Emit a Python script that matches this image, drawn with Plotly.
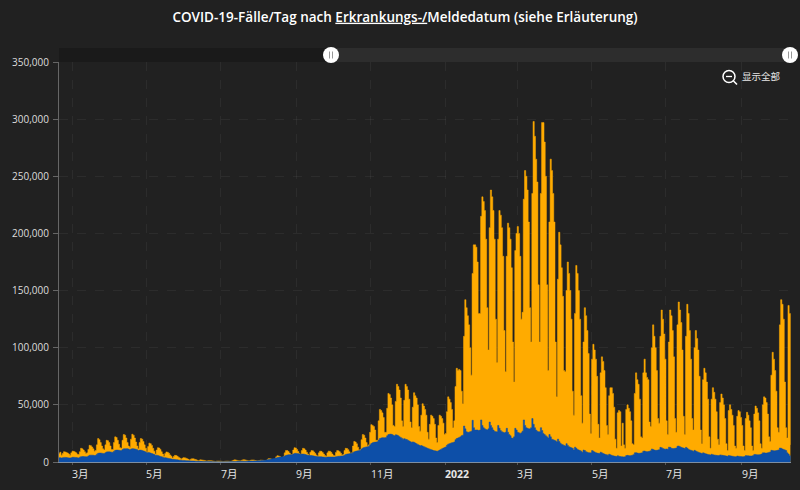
import pandas as pd
import plotly.graph_objects as go

TITLE = "COVID-19-Fälle/Tag nach <u>Erkrankungs-/</u>Meldedatum (siehe Erläuterung)"
START = "2021-02-18"
# daily total cases in thousands; first row is Thu-Fri, then one row per week starting on Saturday
total_k = [
 7.5,8.5,
 6,7.5,9,8.8,8.4,7.8,7, 6,8,9.5,9.3,8.8,8,6.8, 6.5,9,12,11.5,10.5,9,7.5,
 8,11,14.6,14.3,13.2,11.5,9.5, 10,15,20.5,19.5,17,14,11.5, 10.5,15,19,18.6,17,14,11,
 11,17,22,21.5,19,15.5,12.5, 12,19,24,23.5,21,17,14, 13,20,24.3,23.5,21,17.5,14,
 11.5,17,20.5,20,18,15,12, 9,13.5,16.5,16,14.5,12,9.5, 7,10.5,12.5,12.2,11,9,7,
 5,7.5,8.8,8.5,7.6,6.2,5, 3.4,4.8,5.8,5.6,5,4.2,3.4, 2.4,3.2,3.8,3.7,3.3,2.8,2.3,
 1.8,2.5,2.9,2.8,2.5,2.1,1.7, 1.2,1.6,1.9,1.8,1.6,1.4,1.1, .8,1,1.2,1.15,1.05,.9,.7,
 .5,.7,.8,.8,.7,.6,.5, .45,.6,.7,.7,.65,.55,.6, 1,1.5,1.9,1.7,1.4,1.1,1,
 1,1.6,2,1.9,1.7,1.4,1.1, 1,1.5,1.8,1.8,1.6,1.3,1, 1,1.3,1.6,1.6,1.5,1.3,1.2,
 1.3,2.4,3,2.9,2.6,2.2,1.9, 2.4,4.5,5.5,5.3,4.8,4,3.4, 4.5,8,10,10,9.2,7.8,6.5,
 6.5,10.5,12.5,12.2,11,9.2,7.5, 6.5,10,12,11.6,10.4,8.6,7, 5.5,8.5,10,9.8,8.8,7.4,6,
 5,8,9.5,9.3,8.4,7,5.6, 5,8,9.5,9.4,8.5,7,5.7, 5.5,8.4,10,9.8,9,7.6,6.2,
 6.5,10,12,11.8,10.8,9,7.5, 8,14,18,17.5,16,13,10.5, 11,19.5,24,23.5,21,17,14,
 15,26,32.7,32,31,28,19, 19,36,46,45,43,39,26, 26,47,60,59,56,50,32,
 31,53,68,66,63,56,36, 31,54,68,66,63,55,35, 30,48,60.6,58,56,50,31,
 27,41,51,49,46,41,26, 20,33,41,40,38,33,21, 17,32,41,40,38,34,24,
 25,44,57,55,52,46,30, 36,66,82,80,81,80,62, 51,110,142,135,128,120,100,
 76,165,190,190,188,175,130, 130,215,232,228,220,195,135, 98,205,238,232,220,195,125,
 87,195,220,216,205,180,115, 79,180,209,205,195,170,105, 70,185,200,206,200,180,125,
 131,230,255,250,238,210,135, 105,235,298,285,265,245,155, 105,235,297,297,280,250,155,
 80,210,265,255,235,210,105, 57,160,201,190,170,145,80, 79,150,175,165,150,125,62,
 41,130,172,165,150,125,58, 34,105,135,128,115,95,42, 25,90,103,98,90,75,33,
 21,78,92,88,80,65,32, 24,58,65,65,60,48,20, 12,43,45,44,14,34,15,
 12,46,50,47,44,36,16, 15,60,78,72,68,55,22, 21,78,90,78,74,72,35,
 31,100,120,110,100,80,38, 34,110,133,125,112,90,36, 24,105,133,128,115,92,38,
 26,120,140,133,122,98,40, 24,110,138,130,115,90,38, 28,100,115,108,98,75,28,
 16,72,82,78,70,55,22, 12,55,65,61,55,44,20, 15,52,59.5,56,50,38,16,
 10,45,50,46,41,32,14, 12,40,45,44,39,32,14, 10,38,43.5,41,36,30,14,
 10,42,49,47,43,36,16, 12,50,57,56,52,42,22, 18,76,96,90,80,62,30,
 26,120,142,138,125,70,30, 21,137,130,15,
]
# daily cases with known onset date, in thousands; same row layout
onset_k = [
 3.8,3.8,
 3.4,3.8,4,4,3.9,3.8,3.6, 3.4,3.8,4.1,4.1,4,3.9,3.7, 3.6,4.2,4.7,4.8,4.8,4.7,4.6,
 4.6,5.3,5.9,6,6,5.9,5.7, 5.8,6.8,7.6,7.8,7.8,7.7,7.5, 7.4,8.2,8.8,8.9,8.9,8.8,8.6,
 8.5,9.4,10.2,10.4,10.4,10.3,10, 10,11,11.5,11.7,11.7,11.6,11.3, 10.8,11.4,11.7,11.6,11.4,11.1,10.7,
 10,10.4,10.4,10.1,9.7,9.3,8.8, 8.2,8.4,8.2,7.8,7.4,7,6.5, 6,6,5.7,5.3,4.9,4.6,4.2,
 3.8,3.8,3.6,3.3,3,2.8,2.6, 2.4,2.3,2.2,2,1.9,1.7,1.6, 1.5,1.4,1.4,1.3,1.2,1.1,1,
 1,.95,.9,.85,.8,.75,.7, .65,.62,.6,.55,.5,.48,.45, .42,.4,.38,.36,.34,.32,.3,
 .28,.28,.27,.26,.25,.24,.24, .24,.26,.28,.3,.32,.34,.36, .38,.42,.46,.5,.55,.58,.6,
 .62,.66,.7,.72,.74,.76,.78, .8,.85,.88,.9,.92,.94,.96, 1,1.1,1.2,1.3,1.4,1.5,1.6,
 1.8,2,2.2,2.4,2.6,2.8,3, 3.2,3.6,3.9,4.1,4.3,4.4,4.5, 4.7,5.2,5.8,6.1,6.3,6.4,6.4,
 6.4,7,7.5,7.6,7.5,7.3,7, 6.8,7,7,6.8,6.5,6.2,5.9, 5.6,5.7,5.6,5.4,5.2,5,4.8,
 4.6,4.7,4.6,4.5,4.4,4.3,4.2, 4.1,4.3,4.4,4.4,4.4,4.4,4.3, 4.3,4.6,4.9,5,5.1,5.2,5.3,
 5.4,6,6.6,6.9,7.1,7.3,7.4, 7.6,8.3,9,9.3,9.6,9.8,10, 10.3,11.3,12.2,12.6,13,13.2,13.4,
 13.7,15,16.2,16.8,17.2,17.4,17.5, 17.8,19.2,20.5,21,21.3,21.3,21.2, 21.4,23,24,24.3,24.4,24,23.4,
 23,23.8,23.6,23,22.2,21.5,20.8, 20,20.4,20,19.6,19,18.4,17.8, 17.2,17.6,17.2,16.6,16,15.4,14.8,
 14.2,14.4,14,13.4,13,12.4,12, 11.5,11.2,10.8,10.4,10,9.8,9.6, 9.4,9.8,10.4,11,11.6,12.2,12.6,
 13.2,14.6,15.6,16,16.4,16.8,17, 17.6,19.5,20.5,21,21.5,22,23, 23.5,31.5,29,26.5,26,26,26.5,
 27,36.5,30,28,28,28,27.5, 28,36.8,32,30,29,28.5,28, 29,35,32,30,28,27,26.5,
 26.5,32,29.5,27.5,26.5,26,25.5, 26,29.5,26,24,23,21,20.7, 22,29.5,28,26,25.5,25,25.5,
 27,36.8,32,30,29.5,29,29, 30,38,33,30,28,27,26.5, 26.5,30,27.5,25,24,23,22,
 21,24,22,20,19.5,19,18.5, 17.8,20,18,16.5,15.5,15,14.5, 14,16,14.5,13.4,12.8,12.4,12,
 10.5,13,12,11,10.5,10,9.5, 8.5,10.5,10,9,8.5,8.2,8, 8,10,9.5,8.8,8.2,7.8,7.6,
 7.4,8.6,8,7.4,7,6.6,6.3, 6,6.8,6.3,5.8,5.5,5.2,5, 4.8,5.5,5,4.8,4.6,4.5,4.4,
 4.6,5.6,5.8,5.6,5.5,5.6,6, 6.4,8,8.2,7.8,7.6,7.6,7.8, 8,9.5,9.6,9.2,9,9.2,9.4,
 9.8,11.4,11,10.4,10.2,10.2,10.4, 10.8,12.8,12.5,11.8,11.4,11.2,11.4, 11.2,13,12.8,12,11.8,11.8,12,
 12.2,13.8,14,13.4,12.8,12.4,12.2, 11.8,12.8,12,11.2,10.6,10.2,9.8, 9.4,10.2,9.6,9,8.6,8.2,7.8,
 7.4,8,7.6,7.2,6.9,6.6,6.4, 6.2,6.8,6.4,6.1,6,5.8,5.7, 5.6,6.2,6,5.8,5.6,5.4,5.2,
 5,5.6,5.4,5.2,5,4.9,4.7, 4.6,5.2,5,4.9,4.8,4.7,4.7, 4.8,5.6,5.5,5.4,5.3,5.2,5.3,
 5.6,6.6,6.6,6.4,6.4,6.4,6.6, 7,8,8,7.8,7.8,8,8.4, 8.8,10.2,10,9.8,9.8,10,10.2,
 10.6,12.2,12,11.4,11,10.6,10, 8,7,5.5,1,
]
x_tick_dates = ["2021-03-01","2021-05-01","2021-07-01","2021-09-01","2021-11-01","2022-01-01","2022-03-01","2022-05-01","2022-07-01","2022-09-01"]
x_tick_text = ["3月","5月","7月","9月","11月","<b>2022</b>","3月","5月","7月","9月"]
y_ticks = [0,50000,100000,150000,200000,250000,300000,350000]

dates = pd.date_range(START, periods=len(total_k), freq="D")
W, H = 800, 490
L, R, T, B = 59, 791, 62, 462
px = lambda v: (v - L) / (R - L)
py = lambda v: (B - v) / (B - T)
BG = "#212121"

fig = go.Figure()
fig.add_trace(go.Scatter(x=dates, y=[v*1000 for v in total_k], mode="lines", name="Meldedatum",
    line=dict(color="#ffab00", width=0.5, shape="hv"), fill="tozeroy", fillcolor="#ffab00"))
fig.add_trace(go.Scatter(x=dates, y=[v*1000 for v in onset_k], mode="lines", name="Erkrankungsdatum",
    line=dict(color="#0d4fa8", width=0.5, shape="hv"), fill="tozeroy", fillcolor="#0d4fa8"))

shapes = []
def rect(x0,y0,x1,y1,c):
    shapes.append(dict(type="rect",xref="paper",yref="paper",x0=px(x0),x1=px(x1),y0=py(y0),y1=py(y1),fillcolor=c,line_width=0,layer="above"))
def circ(cx,cy,r,fill,lc="rgba(0,0,0,0)",lw=0):
    shapes.append(dict(type="circle",xref="paper",yref="paper",x0=px(cx-r),x1=px(cx+r),y0=py(cy+r),y1=py(cy-r),fillcolor=fill,line=dict(color=lc,width=lw),layer="above"))
def seg(x0,y0,x1,y1,c,w):
    shapes.append(dict(type="line",xref="paper",yref="paper",x0=px(x0),x1=px(x1),y0=py(y0),y1=py(y1),line=dict(color=c,width=w),layer="above"))

rect(59,48,331,62,"#1a1a1a")
rect(331,48,790,62,"#2d2d2d")
for cx in (331,790):
    circ(cx,55,8,"#ffffff")
    seg(cx-1.5,51.5,cx-1.5,58.5,"#999999",1)
    seg(cx+1.5,51.5,cx+1.5,58.5,"#999999",1)
circ(729,76.5,6,"rgba(0,0,0,0)","#ffffff",1.5)
seg(726,76.5,732,76.5,"#ffffff",1.3)
seg(733.5,81,737,84.5,"#ffffff",1.6)

# tick labels sit to the right of their gridline in the reference
annotations = [dict(text=t, x=d, xref="x", y=0, yref="paper", xanchor="left", yanchor="top",
                    xshift=-2, yshift=-3, showarrow=False, font=dict(size=10.5, color="#e6e6e6"))
               for d, t in zip(x_tick_dates, x_tick_text)]
annotations.append(dict(text="显示全部", xref="paper", yref="paper", x=px(740), y=py(76.5), xanchor="left",
                        yanchor="middle", showarrow=False, font=dict(size=9.5, color="#e6e6e6")))

fig.update_layout(
    width=W, height=H, autosize=False, showlegend=False,
    paper_bgcolor=BG, plot_bgcolor=BG,
    margin=dict(l=L, r=W-R, t=T, b=H-B, pad=0),
    font=dict(family="'Open Sans','Noto Sans CJK SC',sans-serif", color="#dddddd", size=10),
    title=dict(text=TITLE, x=405/W, xanchor="center", y=1-17/H, yanchor="middle",
               font=dict(size=13.5, color="#ffffff", family="'Open Sans','Noto Sans CJK SC',sans-serif", weight=600)),
    xaxis=dict(type="date", range=["2021-02-18 08:00","2022-10-11 12:00"], tickmode="array",
               tickvals=x_tick_dates, showticklabels=False, showgrid=True, griddash="dash",
               gridcolor="rgba(255,255,255,0.05)", gridwidth=1, ticks="outside", ticklen=2,
               tickcolor="#555555", showline=True, linecolor="#7d8ea3", linewidth=1, zeroline=False),
    yaxis=dict(range=[0,350000], tickmode="array", tickvals=y_ticks, tickformat=",d",
               showgrid=True, griddash="dash", gridcolor="rgba(255,255,255,0.05)", gridwidth=1,
               ticks="outside", ticklen=5, tickcolor="#666666", showline=True, linecolor="#666666",
               linewidth=1, tickfont=dict(size=10, color="#dddddd"), zeroline=False,
               ticklabelstandoff=2),
    shapes=shapes,
    annotations=annotations,
)
fig.write_html("out.html", config={"displayModeBar": False},
               post_script="document.body.style.margin='0';document.documentElement.style.background='#212121';")
